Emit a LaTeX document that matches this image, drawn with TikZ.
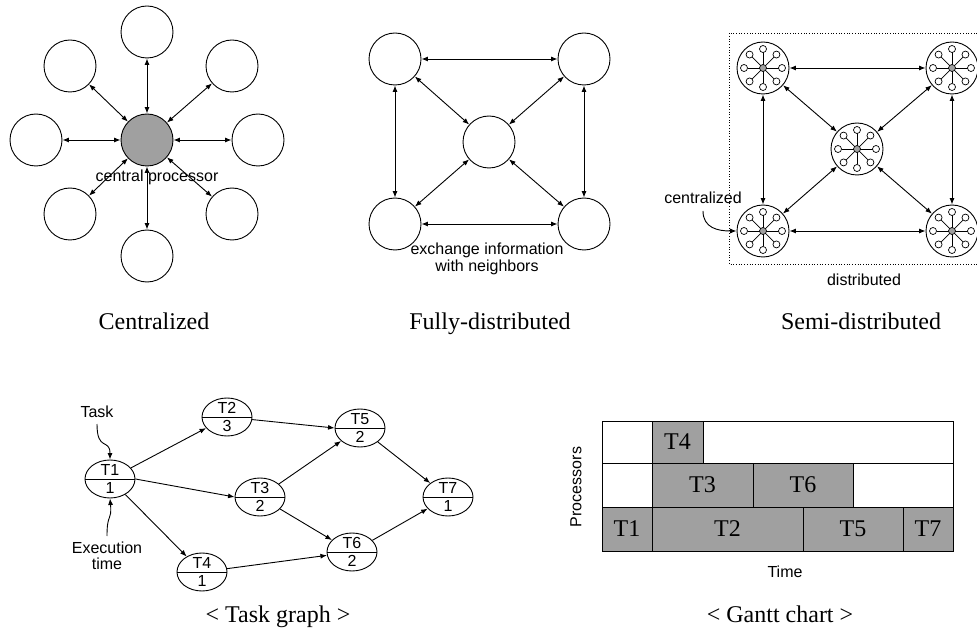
\documentclass[tikz,border=0pt]{standalone}
\usepackage{fontspec}
\setmainfont{Liberation Serif}
\setsansfont{Liberation Sans}
\usetikzlibrary{arrows.meta,shapes.geometric}
\definecolor{gfill}{RGB}{160,160,160}
\begin{document}
\begin{tikzpicture}[x=1pt,y=-1pt,
 proc/.style={circle,draw,line width=0.9pt,minimum size=52pt,inner sep=0pt},
 link/.style={line width=0.9pt,{Latex[length=6.5pt,width=5pt]}-{Latex[length=6.5pt,width=5pt]}},
 arr/.style={line width=0.9pt,-{Latex[length=6.5pt,width=5pt]}},
 lbl/.style={font=\sffamily\fontsize{16}{16.5}\selectfont,inner sep=0pt,align=center},
 captxt/.style={font=\fontsize{24}{26}\selectfont,inner sep=0pt,anchor=base},
 task/.style={ellipse,draw,line width=0.9pt,minimum width=50pt,minimum height=38pt,inner sep=0pt},
 gbox/.style={draw,line width=0.9pt,fill=gfill},
 glab/.style={font=\fontsize{24}{26}\selectfont,inner sep=0pt},
]
\useasboundingbox (0,0) rectangle (977,628);

% ---------- Centralized ----------
\node[proc,fill=gfill] (c0) at (147,140) {};
\foreach \n/\x/\y in {1/147/32,2/232/66,3/258/140,4/232/214,5/147/256,6/70/214,7/36/140,8/70/66}{
  \node[proc] (c\n) at (\x,\y) {};
  \draw[link] (c0) -- (c\n);
}
\node[lbl] (cp) at (157,177) {central processor};
\node[captxt] (capc) at (154,330) {Centralized};

% ---------- Fully-distributed ----------
\node[proc] (f0) at (489,142) {};
\node[proc] (f1) at (395,59) {};
\node[proc] (f2) at (584,59) {};
\node[proc] (f3) at (395,224) {};
\node[proc] (f4) at (584,224) {};
\draw[link] (f1) -- (f2);
\draw[link] (f3) -- (f4);
\draw[link] (f1) -- (f3);
\draw[link] (f2) -- (f4);
\foreach \n in {1,2,3,4}{\draw[link] (f0) -- (f\n);}
\node[lbl] (ex) at (487,259) {exchange information\\with neighbors};
\node[captxt] (capf) at (490,330) {Fully-distributed};

% ---------- Semi-distributed ----------
\draw[dotted,line width=0.7pt] (977,33) -- (729,33) -- (729,264) -- (977,264);
\node[proc] (s0) at (857,149) {};
\node[proc] (s1) at (763,68) {};
\node[proc] (s2) at (952,68) {};
\node[proc] (s3) at (763,231) {};
\node[proc] (s4) at (952,231) {};
\foreach \s in {s0,s1,s2,s3,s4}{
  \foreach \a in {0,45,...,315}{
    \draw[line width=0.7pt] (\s.center) -- ++(\a:15.5pt);
    \draw[line width=0.7pt,fill=white] (\s.center) ++(\a:19pt) circle (3.5pt);
  }
  \filldraw[line width=0.7pt,fill=gfill] (\s.center) circle (3.5pt);
}
\draw[link] (s1) -- (s2);
\draw[link] (s3) -- (s4);
\draw[link] (s1) -- (s3);
\draw[link] (s2) -- (s4);
\foreach \n in {1,2,3,4}{\draw[link] (s0) -- (s\n);}
\node[lbl] (cz) at (703,198) {centralized};
\coordinate (czs) at (703,211);
\draw[arr] (czs) .. controls (703,228) and (718,231) .. (s3.west);
\node[lbl] (ds) at (864,280) {distributed};
\node[captxt] (caps) at (861,330) {Semi-distributed};

% ---------- Task graph ----------
\foreach \n/\x/\y/\w in {1/110/479/1,2/227/417/3,3/260/497/2,4/202/572/1,5/360/428/2,6/352/552/2,7/448/497/1}{
  \node[task] (t\n) at (\x,\y) {};
  \draw[line width=0.9pt] (t\n.west) -- (t\n.east);
  \node[lbl] at (\x,\y-9) {T\n};
  \node[lbl] at (\x,\y+9) {\w};
}
\draw[arr] (t1) -- (t2);
\draw[arr] (t1.east) -- (t3.west);
\draw[arr] (t1) -- (t4);
\draw[arr] (t2) -- (t5.west);
\draw[arr] (t3) -- (t5);
\draw[arr] (t3) -- (t6);
\draw[arr] (t4) -- (t6);
\draw[arr] (t5) -- (t7);
\draw[arr] (t6) -- (t7);
\node[lbl] (tk) at (97,412) {Task};
\coordinate (tks) at (97,424);
\draw[arr] (tks) .. controls (97,452) and (110,438) .. (t1.north);
\node[lbl] (et) at (107,556) {Execution\\time};
\coordinate (ets) at (107,536);
\draw[arr] (ets) .. controls (107,512) and (112,522) .. (t1.south);
\node[captxt] (capt) at (278,622) {< Task graph >};

% ---------- Gantt chart ----------
\draw[line width=0.9pt] (602,421) rectangle (953,551);
\draw[line width=0.9pt] (602,463) -- (953,463);
\draw[line width=0.9pt] (602,507) -- (953,507);
\draw[gbox] (652,421) rectangle (703,463); \node[glab] (g4) at (677.5,442) {T4};
\draw[gbox] (652,463) rectangle (753,507); \node[glab] (g3) at (702.5,485) {T3};
\draw[gbox] (753,463) rectangle (853,507); \node[glab] (g6) at (803,485) {T6};
\draw[gbox] (602,507) rectangle (652,551); \node[glab] (g1) at (627,529) {T1};
\draw[gbox] (652,507) rectangle (803,551); \node[glab] (g2) at (727.5,529) {T2};
\draw[gbox] (803,507) rectangle (903,551); \node[glab] (g5) at (853,529) {T5};
\draw[gbox] (903,507) rectangle (953,551); \node[glab] (g7) at (928,529) {T7};
\node[lbl,rotate=90] (pr) at (576,487) {Processors};
\node[lbl] (tm) at (785,572) {Time};
\node[captxt] (capg) at (780,622) {< Gantt chart >};
\end{tikzpicture}
\end{document}
